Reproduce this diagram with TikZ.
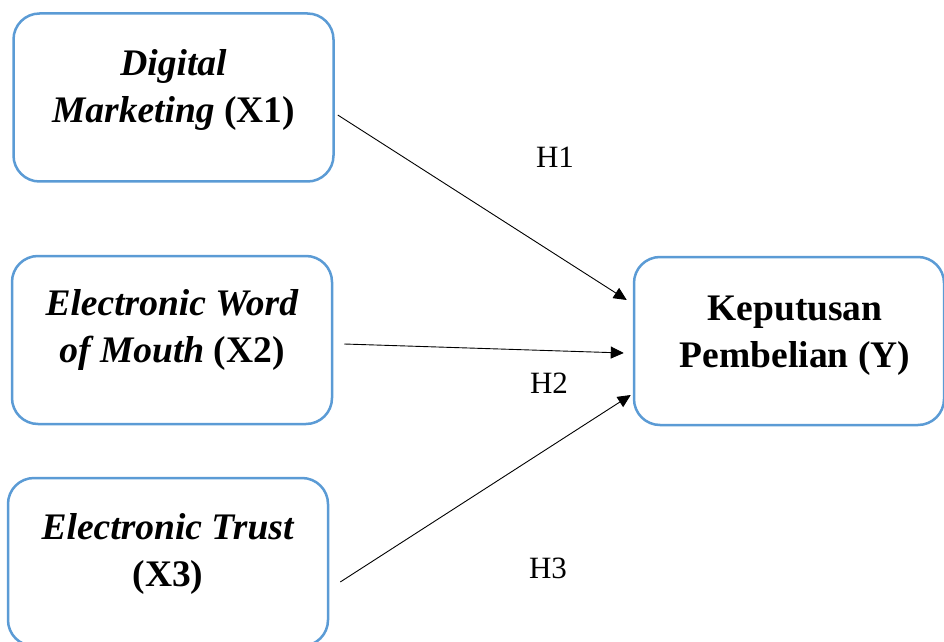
\documentclass[tikz,border=0pt]{standalone}
\usepackage{fontspec}
\setmainfont{Liberation Serif}[BoldItalicFont={Liberation Serif Bold Italic}]
\usetikzlibrary{arrows.meta}
\definecolor{boxblue}{RGB}{91,155,213}
\begin{document}
\begin{tikzpicture}[x=1pt,y=1pt]

    \tikzset{
      varbox/.style={
        draw=boxblue,
        line width=2.5pt,
        rounded corners=26pt,
        minimum width=320pt,
        minimum height=168pt,
      },
      vartext/.style={
        align=center,
        font=\fontsize{37.5}{47}\selectfont\bfseries,
      },
      hyp/.style={
        font=\fontsize{31}{36}\selectfont,
      },
      arrow/.style={
        -{Triangle[length=13pt,width=12pt]},
        line width=0.9pt,
      },
    }
    \useasboundingbox (0,0) rectangle (944,641);
    \clip (0,0) rectangle (944,641);
	\node[varbox] (x1) at (173.5,543.5) {};
	\node[varbox] (x2) at (172,301) {};
	\node[varbox] (x3) at (168,79) {};
	\node[varbox,minimum width=310pt] (y) at (789,300) {};
	\node[vartext] (x1text) at (173.5,551) {\textit{Digital}\\\textit{Marketing} (X1)};
	\node[vartext] (x2text) at (172,311) {\textit{Electronic Word}\\\textit{of Mouth} (X2)};
	\node[vartext] (x3text) at (168,87.5) {\textit{Electronic Trust}\\(X3)};
	\node[vartext] (ytext) at (795,305.5) {Keputusan\\Pembelian (Y)};
	\node[hyp] (h1) at (555,484) {H1};
	\node[hyp] (h2) at (549,258) {H2};
	\node[hyp] (h3) at (548,73) {H3};
	\draw[arrow] ([xshift=3pt,yshift=-17.5pt]x1.east)--([xshift=-6pt,yshift=41pt]y.west);
	\draw[arrow] ([xshift=11pt,yshift=-4pt]x2.east)--([xshift=-9pt,yshift=-12pt]y.west);
	\draw[arrow] ([xshift=11pt,yshift=-20pt]x3.east)--([xshift=-2pt,yshift=-54pt]y.west);

\end{tikzpicture}
\end{document}
